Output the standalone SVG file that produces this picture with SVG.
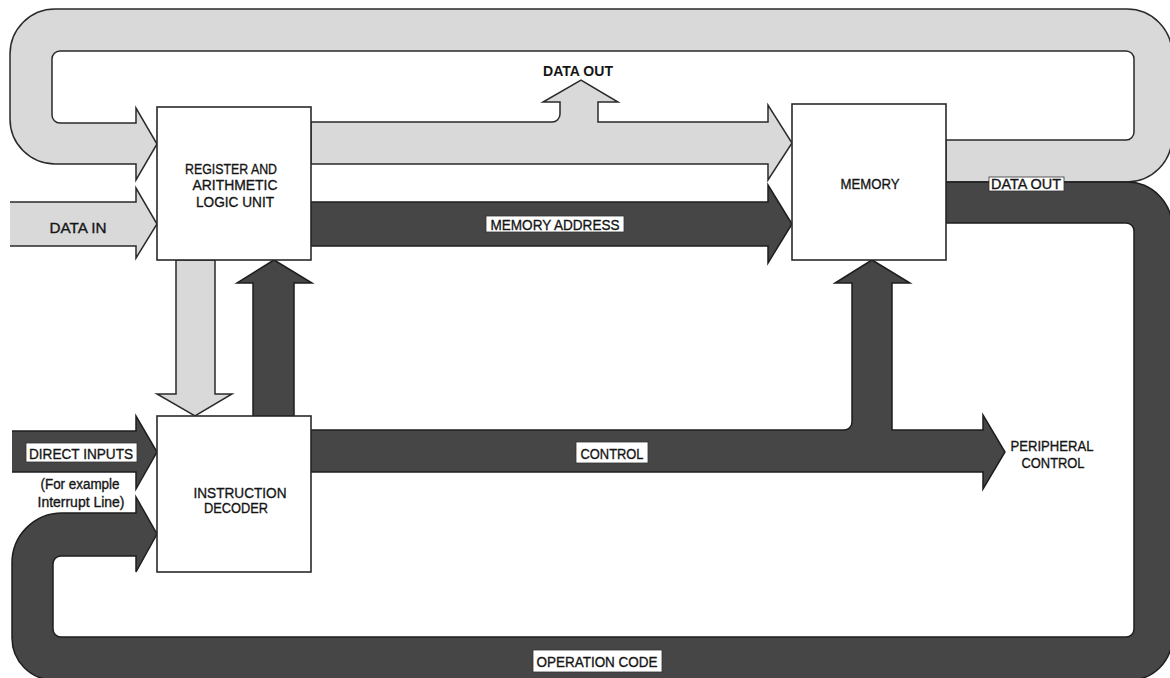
<svg xmlns="http://www.w3.org/2000/svg" width="1170" height="678" viewBox="0 0 1170 678">
  <style>
    .light { fill: #d9d9d9; stroke: #2a2a2a; stroke-width: 1.5; stroke-linejoin: miter; }
    .dark { fill: #464646; stroke: #1e1e1e; stroke-width: 1.5; stroke-linejoin: miter; }
    .box { fill: #ffffff; stroke: #2a2a2a; stroke-width: 1.6; }
    .tag { fill: #ffffff; stroke: #333333; stroke-width: 0.8; }
    text { font-family: "Liberation Sans", Arial, sans-serif; font-size: 15px; fill: #151515; stroke: #151515; stroke-width: 0.35; text-anchor: middle; }
    .small { font-size: 14px; }
    .bold { font-weight: bold; stroke-width: 0; }
  </style>

  <rect width="1170" height="678" fill="#ffffff"/>

  <g id="connectors">
    <!-- data loop: memory output back round the top into the ALU -->
    <path class="light" d="M946,140 H1126 A8,8 0 0 0 1134,132 V59 A8,8 0 0 0 1126,51 H60 A8,8 0 0 0 52,59 V115 A8,8 0 0 0 60,123 H136 V108 L157,144 L136,180 V164 H55 A45,45 0 0 1 10,119 V54 A45,45 0 0 1 55,9 H1127 A45,45 0 0 1 1172,54 V137 A45,45 0 0 1 1127,182 H946 Z"/>

    <!-- operation code loop: memory output round the bottom into the decoder -->
    <path class="dark" d="M946,182 H1127 A45,45 0 0 1 1172,227 V638 A42,42 0 0 1 1130,680 H54 A42,42 0 0 1 12,638 V563 A50,50 0 0 1 62,513 H136 V497 L157,534 L136,572 V556 H61 A8,8 0 0 0 53,564 V629 A8,8 0 0 0 61,637 H1126 A8,8 0 0 0 1134,629 V231 A8,8 0 0 0 1126,223 H946 Z"/>

    <!-- ALU to memory data path with DATA OUT branch -->
    <path class="light" d="M311,122 H552 A8,8 0 0 0 560,114 V102 H543 L581,80 L618,102 H598 V122 H768 V105 L792,143 L768,180 V164 H311 Z"/>

    <!-- memory address -->
    <path class="dark" d="M311,202 H768 V185 L792,224 L768,263 V246 H311 Z"/>

    <!-- data in -->
    <path class="light" d="M10,202 H136 V188 L157,224 L136,258 V246 H10" />

    <!-- direct inputs -->
    <path class="dark" d="M12,431 H136 V416 L157,452 L136,489 V472 H12"/>

    <!-- ALU to decoder (down) -->
    <path class="light" d="M176,260 V394 H157 L195,416 L232,394 H215 V260 Z"/>

    <!-- decoder to ALU (up) -->
    <path class="dark" d="M253,416 V283 H237 L274,260 L312,283 H294 V416 Z"/>

    <!-- control bus with branch up to memory -->
    <path class="dark" d="M311,430 H844 A8,8 0 0 0 852,422 V283 H835 L872,260 L910,283 H892 V430 H983 V415 L1005,452 L983,489 V472 H311 Z"/>
  </g>

  <g id="alu">
    <rect class="box" x="157" y="107" width="154" height="153"/>
    <text x="231" y="173.5" textLength="92" lengthAdjust="spacingAndGlyphs">REGISTER AND</text>
    <text x="235" y="189.5" textLength="85" lengthAdjust="spacingAndGlyphs">ARITHMETIC</text>
    <text x="235" y="206.5" textLength="78" lengthAdjust="spacingAndGlyphs">LOGIC UNIT</text>
  </g>

  <g id="memory">
    <rect class="box" x="792" y="104" width="154" height="156"/>
    <text x="870" y="188.5" textLength="59" lengthAdjust="spacingAndGlyphs">MEMORY</text>
  </g>

  <g id="decoder">
    <rect class="box" x="157" y="416" width="154" height="156"/>
    <text x="240" y="497.5" textLength="93" lengthAdjust="spacingAndGlyphs">INSTRUCTION</text>
    <text x="236" y="512.5" textLength="64" lengthAdjust="spacingAndGlyphs">DECODER</text>
  </g>

  <g id="labels">
    <text class="bold" x="578" y="76" textLength="70" lengthAdjust="spacingAndGlyphs">DATA OUT</text>
    <text x="78" y="233" textLength="57" lengthAdjust="spacingAndGlyphs">DATA IN</text>

    <rect class="tag" x="486" y="216" width="138" height="16"/>
    <text x="555" y="229.5" textLength="129" lengthAdjust="spacingAndGlyphs">MEMORY ADDRESS</text>

    <rect class="tag" x="989" y="177" width="75" height="14"/>
    <text x="1026" y="189" textLength="70" lengthAdjust="spacingAndGlyphs">DATA OUT</text>

    <rect class="tag" x="26" y="443" width="111" height="19"/>
    <text x="81" y="458.5" textLength="104" lengthAdjust="spacingAndGlyphs">DIRECT INPUTS</text>
    <text class="small" x="80" y="489" textLength="79" lengthAdjust="spacingAndGlyphs">(For example</text>
    <text class="small" x="81" y="507" textLength="87" lengthAdjust="spacingAndGlyphs">Interrupt Line)</text>

    <rect class="tag" x="576" y="442" width="72" height="21"/>
    <text x="612" y="458.5" textLength="63" lengthAdjust="spacingAndGlyphs">CONTROL</text>

    <text x="1052" y="450.5" textLength="83" lengthAdjust="spacingAndGlyphs">PERIPHERAL</text>
    <text x="1053" y="467.5" textLength="63" lengthAdjust="spacingAndGlyphs">CONTROL</text>

    <rect class="tag" x="533" y="650" width="129" height="22"/>
    <text x="597" y="667" textLength="121" lengthAdjust="spacingAndGlyphs">OPERATION CODE</text>
  </g>
</svg>
